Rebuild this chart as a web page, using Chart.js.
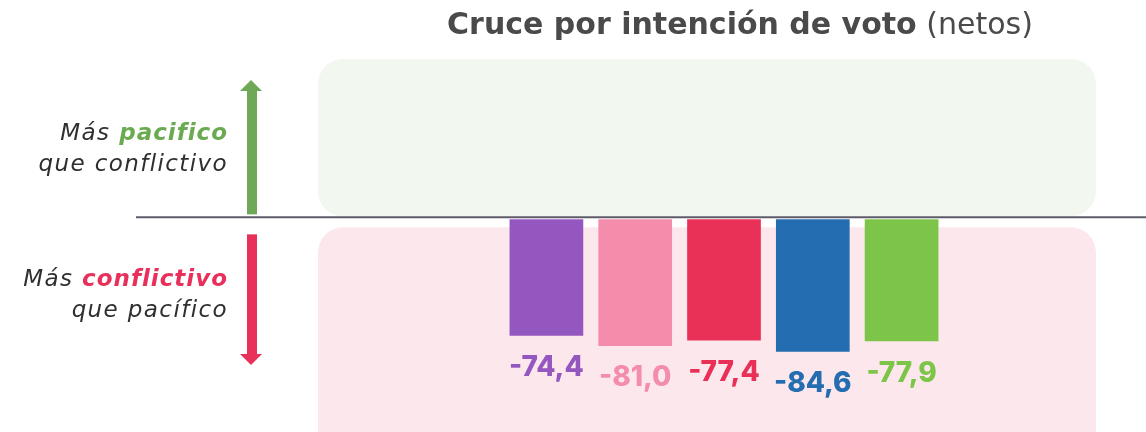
<!DOCTYPE html>
<html>
<head>
<meta charset="utf-8">
<script src="https://cdn.jsdelivr.net/npm/chart.js@4.4.1/dist/chart.umd.min.js"></script>
<style>
  html, body { margin: 0; padding: 0; background: #fff; }
  #wrap { position: relative; width: 1146px; height: 432px; overflow: hidden; }
  #title { position: absolute; left: 0; width: 1480px; top: 6px; text-align: center;
    font-family: "DejaVu Sans", sans-serif; font-size: 30px; color: #4a4a4a; white-space: nowrap; }
  #title b { font-weight: 700; }
  #title span { font-weight: 400; }
  .side { position: absolute; right: 918px; text-align: right; font-family: "DejaVu Sans", sans-serif;
    font-style: italic; font-size: 23px; line-height: 31px; letter-spacing: 1.4px; color: #2f2f2f; white-space: nowrap; }
  .side b { font-weight: 700; letter-spacing: 1px; }
</style>
</head>
<body>
<div id="wrap">
  <canvas id="barChart" width="1146" height="432"></canvas>
  <div id="title"><b>Cruce por intención de voto</b> <span>(netos)</span></div>
  <div class="side" style="top:117px">Más <b style="color:#6aaa50">pacifico</b><br>que conflictivo</div>
  <div class="side" style="top:263px">Más <b style="color:#e8305a">conflictivo</b><br>que pacífico</div>
</div>
<script>
var categories = ['Grupo 1', 'Grupo 2', 'Grupo 3', 'Grupo 4', 'Grupo 5'];
var netValues = [-74.4, -81.0, -77.4, -84.6, -77.9];
var barColors = ['#9457c0', '#f48cab', '#e93157', '#246db0', '#7cc548'];

// background panels, zero line and side arrows
var backdrop = {
  id: 'backdrop',
  beforeDraw: function (chart) {
    var c = chart.ctx, a = chart.chartArea;
    var y0 = chart.scales.y.getPixelForValue(0);
    var left = a.left - 184, right = a.right + 150;
    c.save();
    c.fillStyle = '#f2f7ef';
    c.beginPath(); c.roundRect(left, a.top - 4, right - left, y0 - 3 - (a.top - 4), 25); c.fill();
    c.fillStyle = '#fce8ec';
    c.beginPath(); c.roundRect(left, y0 + 8, right - left, 260, 25); c.fill();

    // green arrow up
    c.fillStyle = '#6fa857';
    c.fillRect(247, 90, 10, y0 - 5 - 90);
    c.beginPath(); c.moveTo(240, 91); c.lineTo(262, 91); c.lineTo(251, 80); c.closePath(); c.fill();
    // red arrow down
    c.fillStyle = '#e8305a';
    c.fillRect(247, y0 + 15, 10, 354 - (y0 + 15));
    c.beginPath(); c.moveTo(240, 354); c.lineTo(262, 354); c.lineTo(251, 365); c.closePath(); c.fill();
    c.restore();
  },
  afterDatasetsDraw: function (chart) {
    var c = chart.ctx;
    var y0 = chart.scales.y.getPixelForValue(0);
    c.save();
    c.strokeStyle = '#5e5b68';
    c.lineWidth = 2;
    c.beginPath(); c.moveTo(136, y0 - 2); c.lineTo(1146, y0 - 2); c.stroke();
    // value labels below each bar
    c.font = '800 28px Inter, sans-serif';
    c.textAlign = 'center';
    c.textBaseline = 'middle';
    chart.getDatasetMeta(0).data.forEach(function (bar, i) {
      c.fillStyle = barColors[i];
      c.fillText(netValues[i].toFixed(1).replace('.', ','), bar.x, bar.y + 32);
    });
    c.restore();
  }
};

var ctx = document.getElementById('barChart').getContext('2d');
var barChart = new Chart(ctx, {
  type: 'bar',
  data: {
    labels: categories,
    datasets: [{
      label: 'Netos',
      data: netValues,
      backgroundColor: barColors,
      borderWidth: 0,
      barPercentage: 0.83,
      categoryPercentage: 1
    }]
  },
  options: {
    responsive: false,
    animation: false,
    layout: { padding: { left: 502, right: 200, top: 63, bottom: 0 } },
    plugins: { legend: { display: false }, tooltip: { enabled: false } },
    scales: {
      x: { display: false },
      y: { display: false, min: -136, max: 100 }
    }
  },
  plugins: [backdrop]
});
</script>
</body>
</html>
